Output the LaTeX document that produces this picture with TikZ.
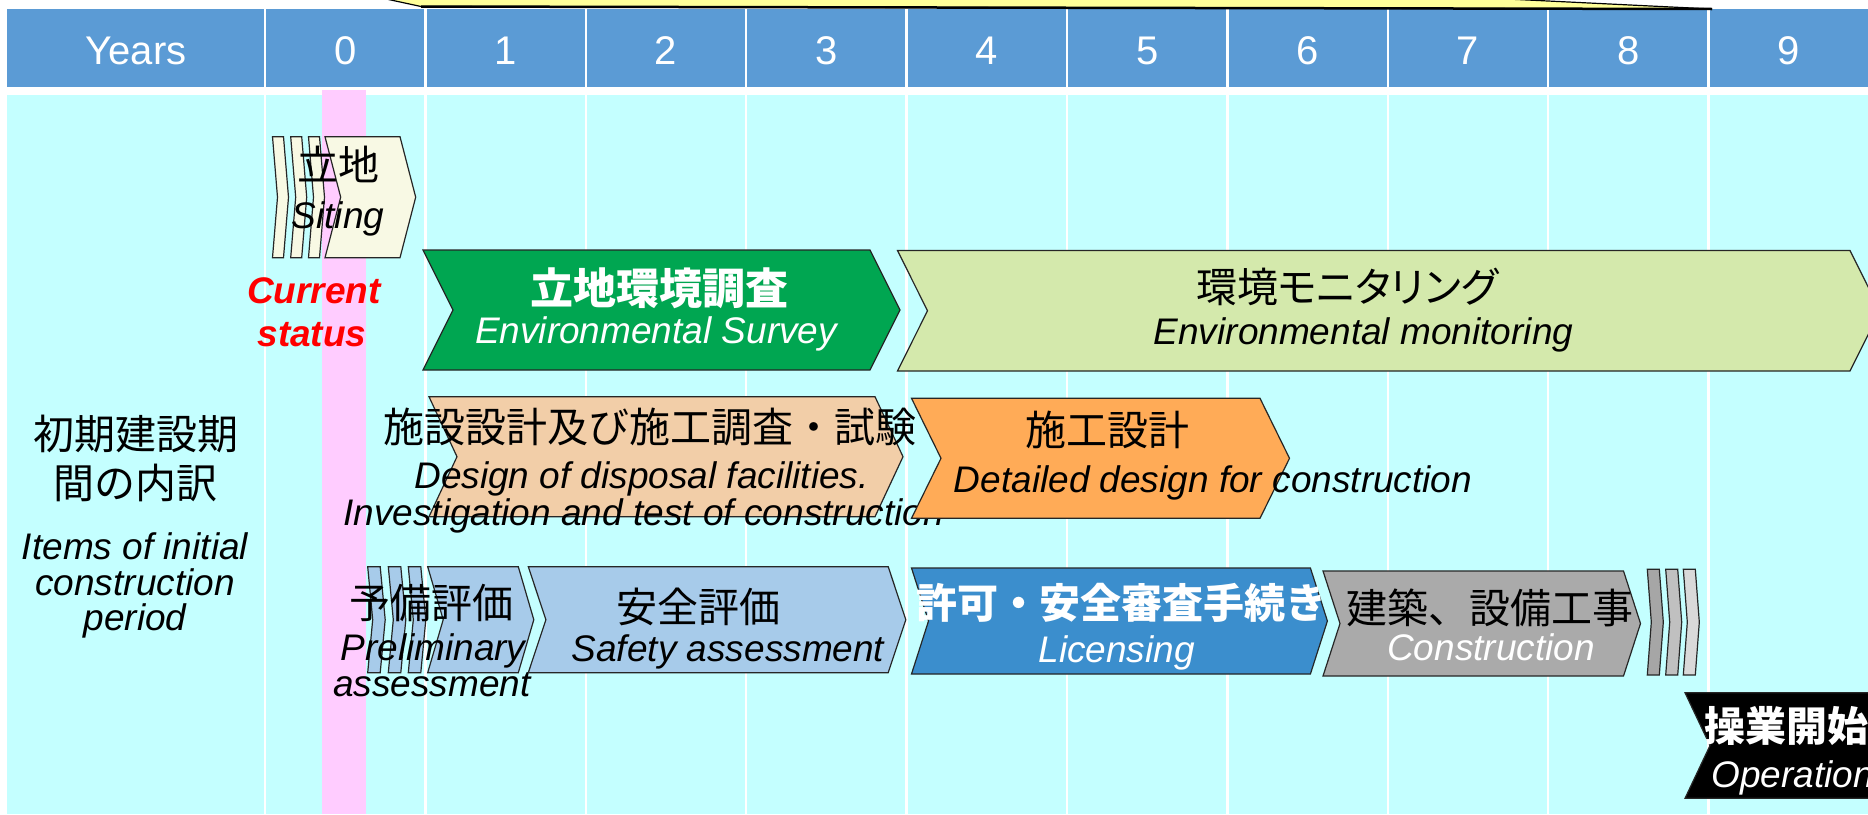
\documentclass[tikz,border=0pt]{standalone}
\usepackage{fontspec}
\setmainfont{Liberation Sans}
\newfontfamily\jp{Noto Sans CJK JP}
\newfontfamily\jpp[RawFeature=+palt]{Noto Sans CJK JP}
\definecolor{hdrblue}{HTML}{5B9BD5}
\definecolor{bodycyan}{HTML}{C4FFFF}
\definecolor{pinkbar}{HTML}{FFCCFF}
\definecolor{callyellow}{HTML}{FFFF99}
\definecolor{sitecream}{HTML}{F8F9E4}
\definecolor{envgreen}{HTML}{00A651}
\definecolor{monigreen}{HTML}{D4E9AC}
\definecolor{tanfill}{HTML}{F2CEA8}
\definecolor{orangefill}{HTML}{FFAB57}
\definecolor{ltblue}{HTML}{A7CBEA}
\definecolor{licblue}{HTML}{3B8ECD}
\definecolor{constgray}{HTML}{AAAAAA}
\definecolor{grayA}{HTML}{A6A6A6}
\definecolor{grayB}{HTML}{C0C0C0}
\definecolor{grayC}{HTML}{D9D9D9}
\newcommand\chevshape[6]{\filldraw[chevline,fill=#6] (#1,#3) -- (#2,#3) -- ({#2+#5},{(#3+#4)/2}) -- (#2,#4) -- (#1,#4) -- ({#1+#5},{(#3+#4)/2}) -- cycle;}
\begin{document}
\begin{tikzpicture}[x=1pt,y=-1pt,
  chevline/.style={draw=black!85,line width=1.2pt,line join=miter},
  jptext/.style={font=\jp\fontsize{41}{48}\selectfont,inner sep=0pt},
  jpbold/.style={font=\jp\bfseries\fontsize{41}{48}\selectfont,inner sep=0pt,text=white},
  entext/.style={font=\itshape\fontsize{37}{44}\selectfont,inner sep=0pt,anchor=base},
  hdrtext/.style={font=\fontsize{40}{48}\selectfont,text=white,inner sep=0pt,anchor=base},
  gridline/.style={white,line width=2.5pt}]
\useasboundingbox (0,0) rectangle (1868,814);
\clip (0,0) rectangle (1868,814);
\fill[white] (0,0) rectangle (1868,814);
% header
\fill[hdrblue] (7,9) rectangle (1870,87);
\foreach \k in {0,...,9} \draw[gridline] ({265+160.4*\k},9) -- ({265+160.4*\k},87);
% callout
\filldraw[fill=callyellow,draw=black,line width=1.2pt] (377,-3) -- (421,6.5) -- (1712,9) -- (1466,-3) -- cycle;
\draw[line width=2.5pt] (421,6.5) -- (1712,9);
% body
\fill[bodycyan] (7,95) rectangle (1870,814);
\foreach \k in {0,...,9} \draw[gridline] ({265+160.4*\k},95) -- ({265+160.4*\k},814);
\fill[pinkbar] (321.5,90) rectangle (366,814);
% header labels
\node[hdrtext] (hy) at (136,64.5) {Years};
\foreach \k in {0,...,9} \node[hdrtext] (h\k) at ({265+160.4*(\k+0.5)},64.5) {\k};
% siting
\chevshape{272.5}{283.5}{136.7}{257.7}{5}{sitecream}
\chevshape{290.7}{301.7}{136.7}{257.7}{5}{sitecream}
\chevshape{308.5}{319.5}{136.7}{257.7}{5}{sitecream}
\chevshape{325}{400}{136.7}{257.7}{15.7}{sitecream}
\node[jptext] (sitej) at (338,164) {立地};
\node[entext] (sitee) at (338,228) {Siting};
% current status
\node[font=\bfseries\itshape\fontsize{37}{44}\selectfont,text=red,inner sep=0pt,anchor=base] (cur1) at (314,303) {Current};
\node[font=\bfseries\itshape\fontsize{37}{44}\selectfont,text=red,inner sep=0pt,anchor=base] (cur2) at (312,346) {status};
% environmental survey
\chevshape{423}{870}{250}{370}{30}{envgreen}
\node[jpbold,font=\jp\bfseries\fontsize{43}{50}\selectfont] (envj) at (659,288) {立地環境調査};
\node[entext,text=white] (enve) at (656,343.5) {Environmental Survey};
% monitoring
\chevshape{897.5}{1850}{250.5}{371}{30}{monigreen}
\node[jptext,font=\jpp\fontsize{41}{48}\selectfont] (monj) at (1347,287) {環境モニタリング};
\node[entext] (mone) at (1363.5,344) {Environmental monitoring};
% design of disposal facilities
\chevshape{429}{875}{396.7}{516.7}{28}{tanfill}
\node[jptext] (desj) at (650,427) {施設設計及び施工調査・試験};
\node[entext] (dese1) at (641.6,488) {Design of disposal facilities.};
\node[entext] (dese2) at (643.7,525) {Investigation and test of construction};
% detailed design
\chevshape{911.5}{1260}{398.3}{518.3}{29.5}{orangefill}
\node[jptext] (detj) at (1107,430) {施工設計};
\node[entext] (dete) at (1213,492) {Detailed design for construction};
% preliminary assessment
\chevshape{367.7}{380.2}{566.7}{672.7}{5}{ltblue}
\chevshape{388.3}{400.8}{566.7}{672.7}{5}{ltblue}
\chevshape{408.3}{420.8}{566.7}{672.7}{5}{ltblue}
\chevshape{427.7}{518.3}{566.7}{672.7}{15.5}{ltblue}
\node[jptext] (prej) at (431,603) {予備評価};
\node[entext] (pree1) at (433,660) {Preliminary};
\node[entext] (pree2) at (432,696.5) {assessment};
% safety assessment
\chevshape{528.3}{888.2}{566.7}{672.7}{17.6}{ltblue}
\node[jptext] (safj) at (698,607) {安全評価};
\node[entext] (safe) at (728,661) {Safety assessment};
% licensing
\chevshape{911.5}{1310.4}{568}{674}{17}{licblue}
\node[jpbold] (licj) at (1121,603) {許可・安全審査手続き};
\node[entext,text=white] (lice) at (1116.6,662) {Licensing};
% construction
\chevshape{1323}{1623.5}{571}{676}{17}{constgray}
\node[jptext] (conj) at (1490,607.5) {建築、設備工事};
\node[entext,text=white] (cone) at (1491,660) {Construction};
\chevshape{1647.3}{1659.3}{569.3}{675}{4}{grayA}
\chevshape{1665.7}{1677.7}{569.3}{675}{4}{grayB}
\chevshape{1683.3}{1695.3}{569.3}{675}{4}{grayC}
% operation
\chevshape{1685}{1900}{692.7}{798.3}{25}{black}
\node[jpbold,anchor=west] (opj) at (1704,726) {操業開始};
\node[entext,text=white,anchor=base west] (ope) at (1711,787) {Operation};
% left column
\node[jptext] (lj1) at (136,434) {初期建設期};
\node[jptext] (lj2) at (135,483) {間の内訳};
\node[entext] (le1) at (135,559) {Items of initial};
\node[entext] (le2) at (135,595) {construction};
\node[entext] (le3) at (135,630) {period};
\end{tikzpicture}
\end{document}
